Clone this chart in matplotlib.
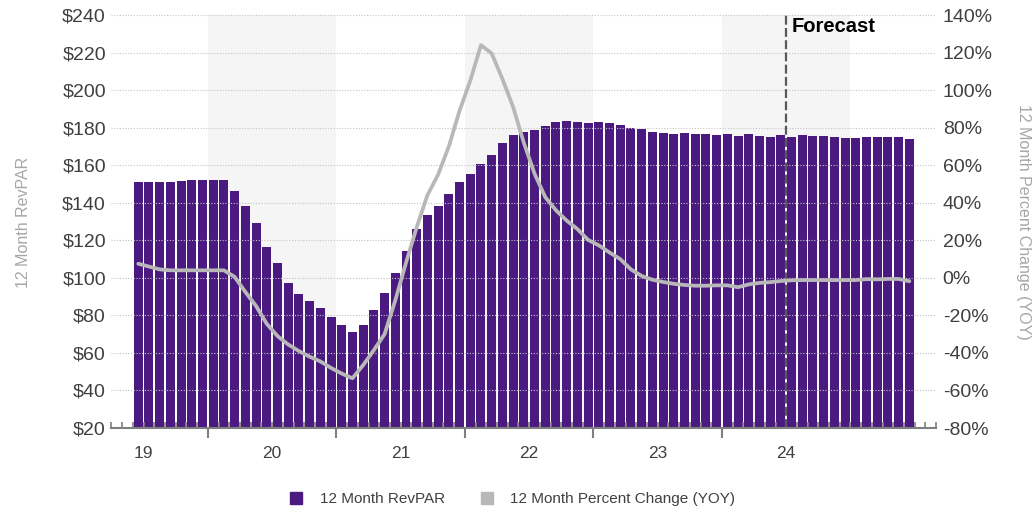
import matplotlib
matplotlib.use("Agg")
import matplotlib.pyplot as plt
from matplotlib.lines import Line2D
import numpy as np

plt.rcParams['font.family'] = ['Liberation Sans', 'DejaVu Sans']

# monthly series, June 2019 through June 2025
first_month = 5  # months after Jan 2019
revpar = [151.0, 151.0, 150.8, 151.0, 151.5, 152.0, 152.0, 152.0, 152.3,
          146.5, 138.0, 129.0, 116.3, 107.7, 97.4, 91.6, 87.7, 83.8, 79.0,
          74.9, 71.1, 74.7, 82.7, 92.1, 102.4, 114.5, 125.9, 133.5, 138.4,
          144.7, 151.2, 155.2, 160.5, 165.4, 171.7, 175.9, 177.9, 178.9,
          181.1, 182.9, 183.7, 182.9, 182.7, 182.9, 182.7, 181.3, 179.7,
          179.5, 177.7, 177.0, 176.6, 177.0, 176.6, 176.5, 176.3, 176.6,
          175.4, 176.6, 175.4, 175.2, 175.9, 175.2, 175.9, 175.5, 175.5,
          175.0, 174.7, 174.3, 175.0, 174.8, 174.8, 175.0, 173.8]
pct_change = [7.5, 6.0, 4.5, 4.0, 4.0, 4.0, 4.0, 4.0, 4.0,
              0.5, -7.5, -15.0, -24.5, -31.0, -35.5, -39.0, -42.0, -44.5,
              -48.0, -51.0, -53.5, -46.5, -38.5, -30.0, -12.0, 8.0, 27.0,
              44.0, 55.0, 70.0, 89.0, 105.0, 124.0, 119.5, 106.0, 91.0,
              72.0, 55.5, 43.0, 36.0, 30.5, 26.0, 20.2, 17.3, 13.5, 10.0,
              4.5, 1.0, -1.0, -2.2, -3.2, -3.8, -4.2, -4.2, -4.0, -4.0,
              -5.0, -3.5, -2.7, -2.3, -1.7, -1.3, -1.2, -1.2, -1.2, -1.2,
              -1.2, -1.2, -0.7, -0.8, -0.6, -0.6, -1.8]
years = ['19', '20', '21', '22', '23', '24']
shaded_years = [2020, 2022, 2024]
forecast_start = 2024.5

purple = '#4b1a80'
grey_line = '#b8b8b8'
text_col = '#404040'
axis_col = '#7f7f7f'

x = 2019 + (first_month + np.arange(len(revpar)) + 0.5) / 12

fig = plt.figure(figsize=(10.35, 5.14), dpi=100)
ax = fig.add_axes([0.1077, 0.1673, 0.7968, 0.8035])
ax2 = ax.twinx()

# light bands on alternate years
for yr in shaded_years:
    ax.axvspan(yr, yr + 1, color='#f5f5f5', lw=0, zorder=0)

ax.bar(x, revpar, width=0.84 / 12, color=purple, zorder=1)
ax.yaxis.grid(True, color='#c4c4c4', ls=(0, (1, 1.5)), lw=0.8)

ax.set_xlim(2019 + 3 / 12, 2019 + 80 / 12)
ax.set_ylim(20, 240)
ax2.set_ylim(-80, 140)

# year boundaries (out) and month marks (in)
ax.set_xticks(np.arange(2020, 2025))
ax.set_xticklabels([])
ax.set_xticks(2019 + np.arange(3, 81) / 12, minor=True)
ax.tick_params(axis='x', which='major', direction='out', length=7, width=1.5, color=axis_col)
ax.tick_params(axis='x', which='minor', direction='in', length=4.5, width=1.2, color=axis_col)
for i, lab in enumerate(years):
    ax.text(2019.5 + i, -0.044, lab, transform=ax.get_xaxis_transform(),
            ha='center', va='top', fontsize=12.5, color=text_col)

ax.set_yticks(range(20, 241, 20))
ax.set_yticklabels(['$' + str(v) for v in range(20, 241, 20)])
ax.tick_params(axis='y', length=0, pad=4, labelsize=14, labelcolor=text_col)
ax2.set_yticks(range(-80, 141, 20))
ax2.set_yticklabels([str(v) + '%' for v in range(-80, 141, 20)])
ax2.tick_params(axis='y', length=0, pad=4.7, labelsize=14, labelcolor=text_col)

for s in ['top', 'left', 'right']:
    ax.spines[s].set_visible(False)
for s in ax2.spines.values():
    s.set_visible(False)
ax.spines['bottom'].set_color(axis_col)
ax.spines['bottom'].set_linewidth(1.5)

ax2.plot(x, pct_change, color=grey_line, lw=2.7, solid_joinstyle='round',
         solid_capstyle='round', zorder=3)

# forecast marker
ax.axvline(forecast_start, color='#595959', ls=(0, (4, 1.5)), lw=1.6, zorder=2)
ax.text(forecast_start + 0.045, 234, 'Forecast', fontsize=14.5, fontweight='bold',
        ha='left', va='center', color='black')

fig.text(24 / 1035, 1 - 222 / 514, '12 Month RevPAR', rotation=90,
         ha='center', va='center', fontsize=11.5, color='#a6a6a6')
fig.text(1024 / 1035, 1 - 222 / 514, '12 Month Percent Change (YOY)', rotation=270,
         ha='center', va='center', fontsize=11.5, color='#a6a6a6')

handles = [Line2D([], [], ls='', marker='s', markersize=8.6, color=purple),
           Line2D([], [], ls='', marker='s', markersize=8.6, color=grey_line)]
fig.legend(handles, ['12 Month RevPAR', '12 Month Percent Change (YOY)'],
           loc='center', bbox_to_anchor=(0.491, 0.029), ncol=2, frameon=False,
           fontsize=11, handlelength=2, handletextpad=0.55, columnspacing=1.7,
           labelcolor=text_col)

fig.savefig('out.png', dpi=100)
